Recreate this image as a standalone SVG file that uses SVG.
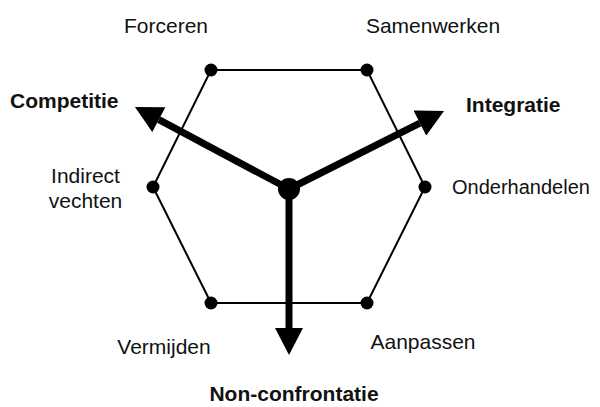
<svg xmlns="http://www.w3.org/2000/svg" width="600" height="407" viewBox="0 0 600 407">
  <style>
    .lbl { font-family: "Liberation Sans", Arial, sans-serif; font-size: 21px; fill: #111; }
    .bold { font-weight: bold; }
    .edge { stroke: #000; stroke-width: 2; fill: none; }
    .axis { stroke: #000; stroke-width: 7; fill: none; marker-end: url(#head); }
    .dot { fill: #000; }
  </style>
  <defs>
    <marker id="head" markerUnits="userSpaceOnUse" markerWidth="28" markerHeight="28" viewBox="0 0 27 28" refX="0" refY="14" orient="auto">
      <path d="M0,0 L27,14 L0,28 z" fill="#000"/>
    </marker>
  </defs>
  <rect width="600" height="407" fill="#fff"/>
  <g id="connectors">
    <polygon class="edge" points="211,70 367,70 425,187 367,303 211,303 153,187"/>
    <line class="axis" x1="289" y1="189" x2="158.8" y2="119.7"/>
    <line class="axis" x1="289" y1="189" x2="419.9" y2="123.1"/>
    <line class="axis" x1="289" y1="189" x2="289" y2="328"/>
  </g>
  <g id="center"><circle class="dot" cx="289" cy="189" r="11"/></g>
  <g id="forceren">
    <circle class="dot" cx="211" cy="70" r="6.5"/>
    <text class="lbl" x="166" y="33" text-anchor="middle">Forceren</text>
  </g>
  <g id="samenwerken">
    <circle class="dot" cx="367" cy="70" r="6.5"/>
    <text class="lbl" x="433" y="33" text-anchor="middle">Samenwerken</text>
  </g>
  <g id="onderhandelen">
    <circle class="dot" cx="425" cy="187" r="6.5"/>
    <text class="lbl" x="452" y="194" style="font-size:20px">Onderhandelen</text>
  </g>
  <g id="aanpassen">
    <circle class="dot" cx="367" cy="303" r="6.5"/>
    <text class="lbl" x="423" y="349" text-anchor="middle">Aanpassen</text>
  </g>
  <g id="vermijden">
    <circle class="dot" cx="211" cy="303" r="6.5"/>
    <text class="lbl" x="164" y="354" text-anchor="middle">Vermijden</text>
  </g>
  <g id="indirect-vechten">
    <circle class="dot" cx="153" cy="187" r="6.5"/>
    <text class="lbl" x="85.5" y="183" text-anchor="middle">Indirect</text>
    <text class="lbl" x="85.5" y="208" text-anchor="middle">vechten</text>
  </g>
  <g id="competitie"><text class="lbl bold" x="10" y="108">Competitie</text></g>
  <g id="integratie"><text class="lbl bold" x="466" y="112">Integratie</text></g>
  <g id="non-confrontatie"><text class="lbl bold" x="294" y="401" text-anchor="middle">Non-confrontatie</text></g>
</svg>
